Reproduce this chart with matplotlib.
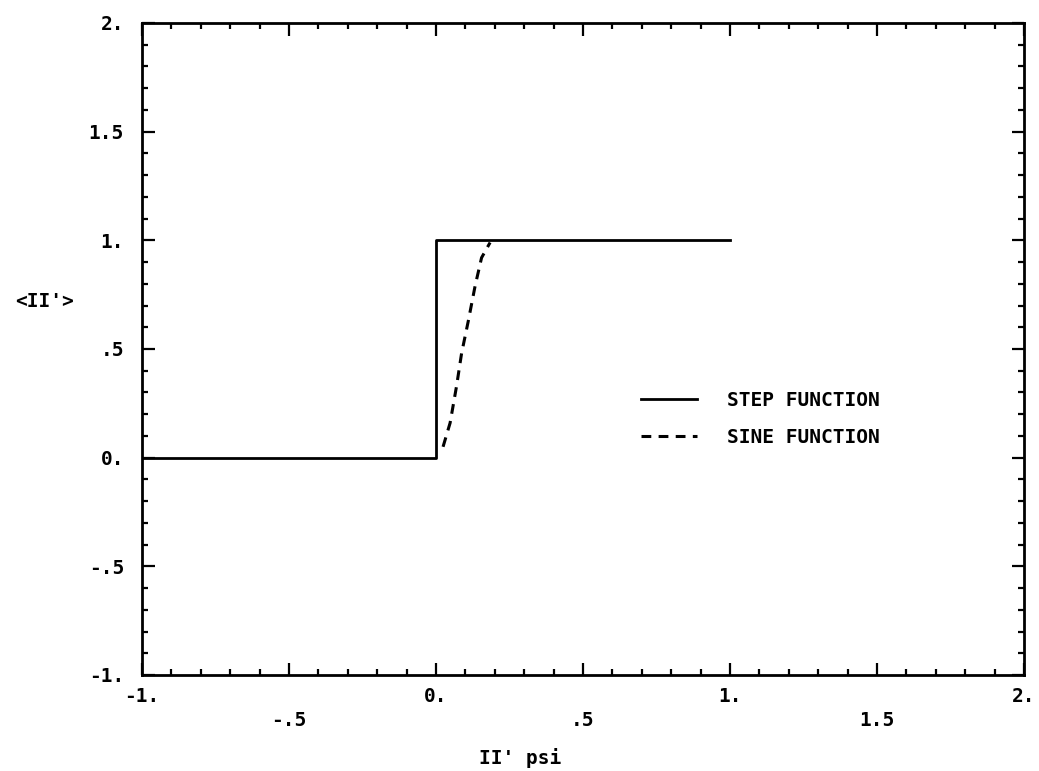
import matplotlib
matplotlib.use("Agg")
import matplotlib.pyplot as plt
from matplotlib.ticker import MultipleLocator, FixedLocator

# Step response: 0 up to psi = 0, then 1 up to psi = 1
step_x = [-1.0, 0.0, 0.0, 1.0]
step_y = [0.0, 0.0, 1.0, 1.0]

# Sine ramp between the two levels
sine_x = [0.024, 0.048, 0.070, 0.087, 0.110, 0.133, 0.155, 0.184]
sine_y = [0.05, 0.16, 0.33, 0.48, 0.63, 0.79, 0.92, 0.99]

x_ticks = [-1.0, -0.5, 0.0, 0.5, 1.0, 1.5, 2.0]
x_labels = ["-1.", "\n-.5", "0.", "\n.5", "1.", "\n1.5", "2."]
y_ticks = [-1.0, -0.5, 0.0, 0.5, 1.0, 1.5, 2.0]
y_labels = ["-1.", "-.5", "0.", ".5", "1.", "1.5", "2."]

FONT = "DejaVu Sans Mono"
FS = 14
TXT = dict(family=FONT, fontsize=FS, fontweight="bold")

fig = plt.figure(figsize=(10.39, 7.71), dpi=100)
ax = fig.add_axes([142 / 1039, 1 - 675 / 771, 882 / 1039, 652 / 771])

ax.plot(step_x, step_y, color="black", lw=2, label="STEP FUNCTION")
ax.plot(sine_x, sine_y, color="black", lw=2.2, linestyle=(0, (3.2, 2.4)),
        label="SINE FUNCTION")

ax.set_xlim(-1, 2)
ax.set_ylim(-1, 2)

ax.xaxis.set_major_locator(FixedLocator(x_ticks))
ax.yaxis.set_major_locator(FixedLocator(y_ticks))
ax.xaxis.set_minor_locator(MultipleLocator(0.1))
ax.yaxis.set_minor_locator(MultipleLocator(0.1))
ax.set_xticklabels(x_labels, linespacing=1.3, **TXT)
ax.set_yticklabels(y_labels, **TXT)

ax.tick_params(which="both", direction="in", top=True, right=True, width=1.6)
ax.tick_params(which="major", length=9)
ax.tick_params(which="minor", length=4.5)
ax.tick_params(axis="x", which="major", pad=9)
ax.tick_params(axis="y", which="major", pad=13)

for sp in ax.spines.values():
    sp.set_linewidth(2)

fig.text(520 / 1039, 1 - 758 / 771, "II' psi", ha="center", va="center", **TXT)
fig.text(45 / 1039, 1 - 302 / 771, "<II'>", ha="center", va="center", **TXT)

leg = ax.legend(loc="center left", bbox_to_anchor=(0.546, 0.393), frameon=False,
                prop={"family": FONT, "size": FS, "weight": "bold"},
                handlelength=2.9, handletextpad=1.5, labelspacing=0.9)

fig.savefig("out.png", dpi=100, facecolor="white")
